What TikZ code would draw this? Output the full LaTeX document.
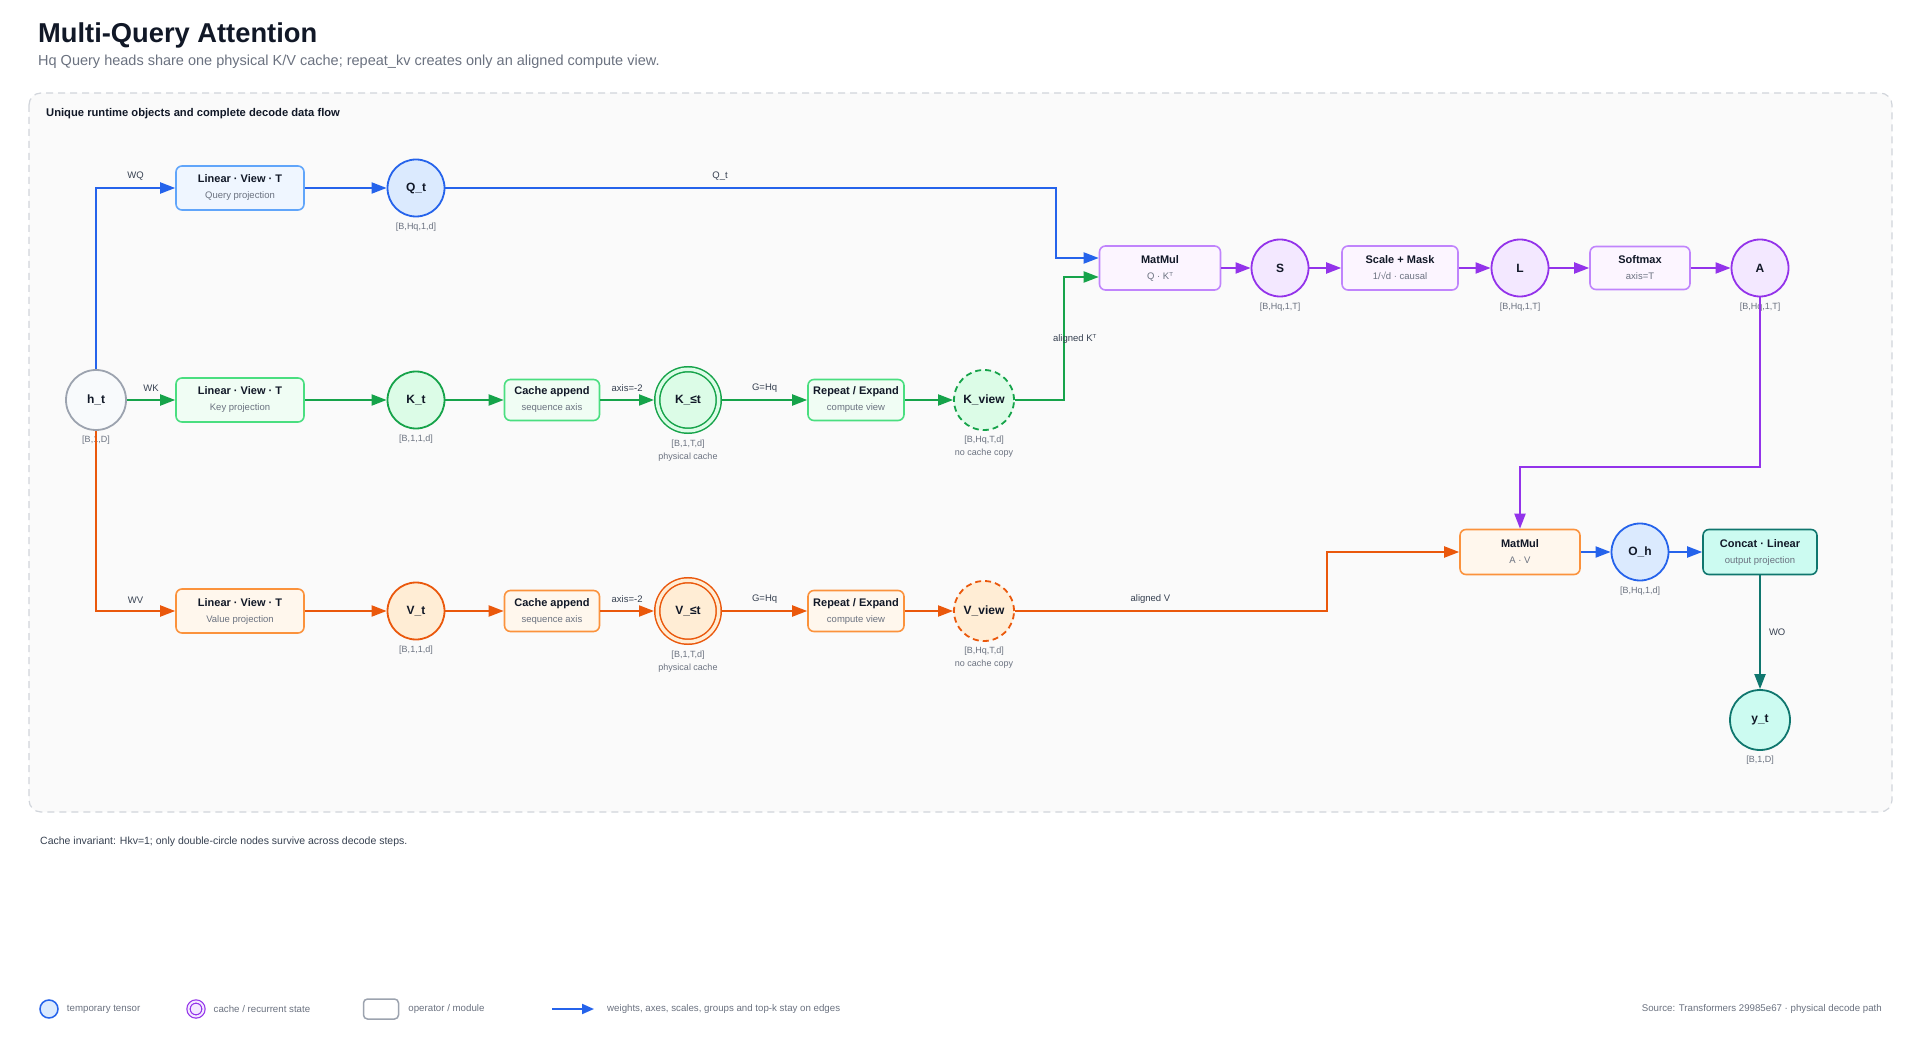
\documentclass[tikz,border=0pt]{standalone}
\usepackage{fontspec}
\setmainfont{Liberation Sans}
\newfontfamily\dvfont{DejaVu Sans}
\usetikzlibrary{positioning, arrows.meta, calc}

\definecolor{inkDark}{HTML}{111827}
\definecolor{inkMid}{HTML}{374151}
\definecolor{mutedGray}{HTML}{6B7280}
\definecolor{panelEdge}{HTML}{D1D5DB}
\definecolor{panelFill}{HTML}{FAFAFA}
% query / output head (blue)
\definecolor{qryLine}{HTML}{2563EB}
\definecolor{qryEdge}{HTML}{60A5FA}
\definecolor{qryBox}{HTML}{EFF6FF}
\definecolor{qryDot}{HTML}{DBEAFE}
% key path (green)
\definecolor{keyLine}{HTML}{16A34A}
\definecolor{keyEdge}{HTML}{4ADE80}
\definecolor{keyBox}{HTML}{F0FDF4}
\definecolor{keyDot}{HTML}{DCFCE7}
% value path (orange)
\definecolor{valLine}{HTML}{EA580C}
\definecolor{valEdge}{HTML}{FB923C}
\definecolor{valBox}{HTML}{FFF7ED}
\definecolor{valDot}{HTML}{FFEDD5}
% attention scores (purple)
\definecolor{attLine}{HTML}{9333EA}
\definecolor{attEdge}{HTML}{C084FC}
\definecolor{attBox}{HTML}{FCF5FF}
\definecolor{attDot}{HTML}{F3E8FF}
% output projection (teal)
\definecolor{outLine}{HTML}{0F766E}
\definecolor{outEdge}{HTML}{0F766E}
\definecolor{outBox}{HTML}{CCFBF1}
\definecolor{outDot}{HTML}{CCFBF1}
% hidden state (gray)
\definecolor{hidLine}{HTML}{9CA3AF}
\definecolor{hidDot}{HTML}{F8FAFC}

\newcommand{\subtxt}[1]{{\mdseries\fontsize{9.5}{16}\selectfont\color{mutedGray}#1}}

\begin{document}
\begin{tikzpicture}[
  x=1pt, y=-1pt,
  every node/.style={text=inkDark},
  opbox/.style={
    rectangle, rounded corners=6pt,
    draw=#1Edge, fill=#1Box, line width=1.6pt,
    minimum height=44pt, inner sep=2pt, align=center,
    font=\bfseries\fontsize{11}{16}\selectfont
  },
  tensor/.style={
    circle, draw=#1Line, fill=#1Dot, line width=1.8pt,
    minimum size=57pt, inner sep=0pt,
    font=\bfseries\fontsize{12}{14}\selectfont
  },
  cachenode/.style={
    tensor=#1, line width=1.5pt, double=#1Dot, double distance=3.5pt,
    minimum size=61.5pt, outer sep=3.25pt
  },
  viewnode/.style={tensor=#1, dash pattern=on 6pt off 4pt, minimum size=60pt},
  flow/.style={draw=#1Line, line width=2pt, -{Triangle[length=15pt, width=11pt]}},
  edgelbl/.style={font=\fontsize{9.5}{11}\selectfont, text=inkMid, inner sep=2pt},
  dimlbl/.style={font=\fontsize{9}{13}\selectfont, text=mutedGray, align=center, inner sep=1pt},
  legendtxt/.style={font=\fontsize{9.7}{11}\selectfont, text=mutedGray, anchor=west, inner sep=0pt},
]

\useasboundingbox (0,0) rectangle (1920,1040);
\fill[white] (0,0) rectangle (1920,1040);

% === Header ===
\node[anchor=base west, inner sep=0pt, font=\bfseries\fontsize{27.3}{30}\selectfont] (title) at (38,43) {Multi-Query Attention};
\node[anchor=base west, inner sep=0pt, font=\fontsize{14.5}{16}\selectfont, text=mutedGray] (subtitle) at (38,66)
  {Hq Query heads share one physical K/V cache; repeat\_kv creates only an aligned compute view.};

% === Panel ===
\draw[panelEdge, fill=panelFill, line width=1.2pt, dash pattern=on 7pt off 5pt, rounded corners=12pt]
  (29,93) rectangle (1892,812);
\node[anchor=base west, inner sep=0pt, font=\bfseries\fontsize{11.2}{12}\selectfont] (heading) at (46,117)
  {Unique runtime objects and complete decode data flow};

% === Input ===
\node[tensor=hid, minimum size=60pt] (ht) at (96,400) {h\_t};
\node[dimlbl, below=4pt of ht] (ht-dim) {[B,1,D]};

% === Query row ===
\node[opbox=qry, minimum width=128pt] (lq) at (240,188) {Linear · View · T\\\subtxt{Query projection}};
\node[tensor=qry] (qt) at (416,188) {Q\_t};
\node[dimlbl, below=4pt of qt] (qt-dim) {[B,Hq,1,d]};

% === Key row ===
\node[opbox=key, minimum width=128pt] (lk) at (240,400) {Linear · View · T\\\subtxt{Key projection}};
\node[tensor=key] (kt) at (416,400) {K\_t};
\node[dimlbl, below=4pt of kt] (kt-dim) {[B,1,1,d]};
\node[opbox=key, minimum width=95pt, minimum height=41pt] (ck) at (552,400) {Cache append\\\subtxt{sequence axis}};
\node[cachenode=key] (kc) at (688,400) {K\_≤t};
\node[dimlbl, below=5pt of kc] (kc-dim) {[B,1,T,d]\\physical cache};
\node[opbox=key, minimum width=96pt, minimum height=41pt] (rk) at (856,400) {Repeat / Expand\\\subtxt{compute view}};
\node[viewnode=key] (kv) at (984,400) {K\_view};
\node[dimlbl, below=4pt of kv] (kv-dim) {[B,Hq,T,d]\\no cache copy};

% === Value row ===
\node[opbox=val, minimum width=128pt] (lv) at (240,611) {Linear · View · T\\\subtxt{Value projection}};
\node[tensor=val] (vt) at (416,611) {V\_t};
\node[dimlbl, below=4pt of vt] (vt-dim) {[B,1,1,d]};
\node[opbox=val, minimum width=95pt, minimum height=41pt] (cv) at (552,611) {Cache append\\\subtxt{sequence axis}};
\node[cachenode=val] (vc) at (688,611) {V\_≤t};
\node[dimlbl, below=5pt of vc] (vc-dim) {[B,1,T,d]\\physical cache};
\node[opbox=val, minimum width=96pt, minimum height=41pt] (rv) at (856,611) {Repeat / Expand\\\subtxt{compute view}};
\node[viewnode=val] (vv) at (984,611) {V\_view};
\node[dimlbl, below=4pt of vv] (vv-dim) {[B,Hq,T,d]\\no cache copy};

% === Attention row ===
\node[opbox=att, minimum width=121pt] (mm1) at (1160,268) {MatMul\\\subtxt{Q · K{\dvfont ᵀ}}};
\node[tensor=att] (s) at (1280,268) {S};
\node[dimlbl, below=4pt of s] (s-dim) {[B,Hq,1,T]};
\node[opbox=att, minimum width=116pt] (sm) at (1400,268) {Scale + Mask\\\subtxt{1/√d · causal}};
\node[tensor=att] (l) at (1520,268) {L};
\node[dimlbl, below=4pt of l] (l-dim) {[B,Hq,1,T]};
\node[opbox=att, minimum width=100pt, minimum height=43pt] (sx) at (1640,268) {Softmax\\\subtxt{axis=T}};
\node[tensor=att] (a) at (1760,268) {A};
\node[dimlbl, below=4pt of a] (a-dim) {[B,Hq,1,T]};

% === Output ===
\node[opbox=val, minimum width=120pt, minimum height=45pt] (mm2) at (1520,552) {MatMul\\\subtxt{A · V}};
\node[tensor=qry] (oh) at (1640,552) {O\_h};
\node[dimlbl, below=4pt of oh] (oh-dim) {[B,Hq,1,d]};
\node[opbox=out, minimum width=114pt, minimum height=45pt] (cat) at (1760,552) {Concat · Linear\\\subtxt{output projection}};
\node[tensor=out, minimum size=60pt] (yt) at (1760,720) {y\_t};
\node[dimlbl, below=4pt of yt] (yt-dim) {[B,1,D]};

% === Query flow ===
\draw[flow=qry] (ht.north) |- node[edgelbl, above=5pt, pos=0.75] {WQ} (lq.west);
\draw[flow=qry] (lq) -- (qt);
\draw[flow=qry] (qt.east) -| node[edgelbl, above=5pt, pos=0.225] {Q\_t}
  ([xshift=-43pt, yshift=10pt]mm1.west) -- ([yshift=10pt]mm1.west);

% === Key flow ===
\draw[flow=key] (ht) -- node[edgelbl, above=5pt] {WK} (lk);
\draw[flow=key] (lk) -- (kt);
\draw[flow=key] (kt) -- (ck);
\draw[flow=key] (ck) -- node[edgelbl, above=5pt] {axis=-2} (kc);
\draw[flow=key] (kc) -- node[edgelbl, above=5pt] {G=Hq} (rk);
\draw[flow=key] (rk) -- (kv);
\draw[flow=key] (kv.east) -| node[edgelbl, pos=0.75, xshift=11pt] {aligned K{\dvfont ᵀ}}
  ([xshift=-35pt, yshift=-9pt]mm1.west) -- ([yshift=-9pt]mm1.west);

% === Value flow ===
\draw[flow=val] (ht.south) |- node[edgelbl, above=5pt, pos=0.75] {WV} (lv.west);
\draw[flow=val] (lv) -- (vt);
\draw[flow=val] (vt) -- (cv);
\draw[flow=val] (cv) -- node[edgelbl, above=5pt] {axis=-2} (vc);
\draw[flow=val] (vc) -- node[edgelbl, above=5pt] {G=Hq} (rv);
\draw[flow=val] (rv) -- (vv);
\draw[flow=val] (vv.east) -| node[edgelbl, above=5pt, pos=0.217] {aligned V}
  ([xshift=-132pt]mm2.west) -- (mm2.west);

% === Scores ===
\foreach \u/\v in {mm1/s, s/sm, sm/l, l/sx, sx/a} {
  \draw[flow=att] (\u) -- (\v);
}
\draw[flow=att] (a.south) |- ([yshift=62pt]mm2.north) -- (mm2.north);

% === Output flow ===
\draw[flow=qry] (mm2) -- (oh);
\draw[flow=qry] (oh) -- (cat);
\draw[flow=out] (cat) -- node[edgelbl, right=6pt] {WO} (yt);

% === Footnote ===
\node[anchor=base west, inner sep=0pt, font=\fontsize{10.5}{12}\selectfont, text=inkMid] (note) at (40,844)
  {Cache invariant: Hkv=1; only double-circle nodes survive across decode steps.};

% === Legend ===
\node[tensor=qry, minimum size=18pt, line width=1.5pt] (lg-tmp) at (49,1009) {};
\node[legendtxt, right=8pt of lg-tmp] (lg-tmp-txt) {temporary tensor};
\node[cachenode=att, minimum size=15pt, line width=1.2pt, double distance=2pt, outer sep=0pt] (lg-cache) at (196,1009) {};
\node[legendtxt, right=10pt of lg-cache] (lg-cache-txt) {cache / recurrent state};
\node[rectangle, rounded corners=4pt, draw=hidLine, fill=white, line width=1.5pt,
  minimum width=35pt, minimum height=20pt] (lg-op) at (381,1009) {};
\node[legendtxt, right=9pt of lg-op] (lg-op-txt) {operator / module};
\coordinate (lg-a) at (552,1009);
\coordinate (lg-b) at (594,1009);
\draw[flow=qry, -{Triangle[length=12pt, width=10pt]}] (lg-a) -- (lg-b);
\node[legendtxt, right=13pt of lg-b] (lg-edge-txt) {weights, axes, scales, groups and top-k stay on edges};
\node[legendtxt, anchor=east] (source) at (1882,1009) {Source: Transformers 29985e67 · physical decode path};

\end{tikzpicture}
\end{document}
